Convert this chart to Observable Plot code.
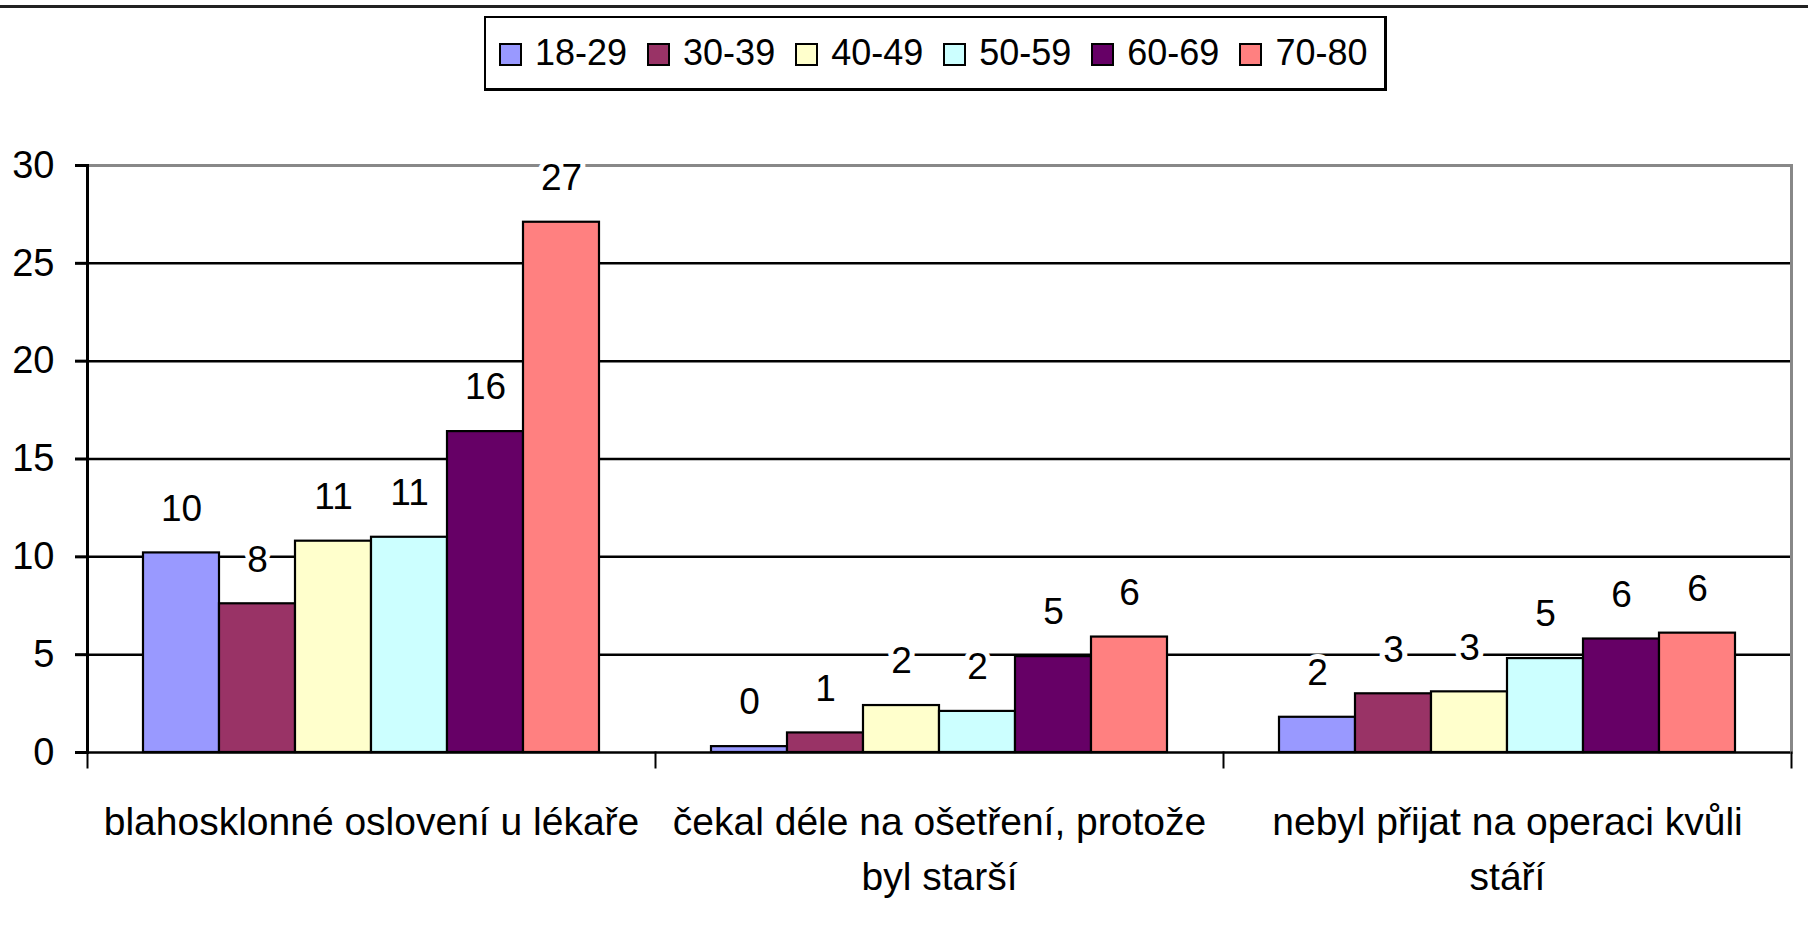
<!DOCTYPE html>
<html>
<head>
<meta charset="utf-8">
<script src="https://cdn.jsdelivr.net/npm/d3@7"></script>
<script src="https://cdn.jsdelivr.net/npm/@observablehq/plot@0.6"></script>
<style>
  html, body { margin: 0; padding: 0; background: #fff; overflow: hidden; }
  body { width: 1808px; height: 931px; font-family: "Liberation Sans", Arial, sans-serif; }
  #top { position: relative; width: 1808px; height: 100px; }
  #topline { position: absolute; left: 0; top: 5px; width: 1808px; height: 3px; background: #222; }
  #legend { position: absolute; left: 484px; top: 16px; width: 903px; height: 75px; box-sizing: border-box;
            border: 2px solid #000; border-right-width: 3px; border-bottom-width: 3px;
            display: flex; align-items: center; padding-left: 13px; white-space: nowrap; }
  .item { display: flex; align-items: center; margin-right: 20px; flex: none; }
  .sw { width: 23px; height: 23px; box-sizing: border-box; border: 2px solid #000; margin-right: 13px; margin-top: 3px; flex: none; }
  .lab { font-size: 36px; line-height: 1; color: #000; white-space: nowrap; }
  #chart svg { display: block; }
</style>
</head>
<body>
<div id="top"><div id="topline"></div><div id="legend"></div></div>
<div id="chart"></div>
<script>
// ---- data ----
const categories = [
  "blahosklonné oslovení u lékaře",
  "čekal déle na ošetření, protože byl starší",
  "nebyl přijat na operaci kvůli stáří"
];
const categoryLabels = [
  "blahosklonné oslovení u lékaře",
  "čekal déle na ošetření, protože\nbyl starší",
  "nebyl přijat na operaci kvůli\nstáří"
];
const ageGroups = ["18-29", "30-39", "40-49", "50-59", "60-69", "70-80"];
const colors = ["#9999FF", "#993366", "#FFFFCC", "#CCFFFF", "#660066", "#FF8080"];
const v18_29 = [10.2, 0.3, 1.8];
const v30_39 = [7.6, 1.0, 3.0];
const v40_49 = [10.8, 2.4, 3.1];
const v50_59 = [11.0, 2.1, 4.8];
const v60_69 = [16.4, 4.9, 5.8];
const v70_80 = [27.1, 5.9, 6.1];
const yTicks = [0, 5, 10, 15, 20, 25, 30];

const series = [v18_29, v30_39, v40_49, v50_59, v60_69, v70_80];
const data = [];
categories.forEach((c, j) => ageGroups.forEach((a, i) => data.push({category: c, age: a, value: series[i][j]})));

// ---- legend ----
const legend = document.getElementById("legend");
ageGroups.forEach((a, i) => {
  const it = document.createElement("div"); it.className = "item";
  const sw = document.createElement("div"); sw.className = "sw"; sw.style.background = colors[i];
  const lb = document.createElement("div"); lb.className = "lab"; lb.textContent = a;
  it.appendChild(sw); it.appendChild(lb); legend.appendChild(it);
});

// ---- chart ----
const W = 1808, H = 831, mT = 65, mB = 179, mL = 86, mR = 17;
const plotH = H - mT - mB;
const chart = Plot.plot({
  width: W, height: H,
  marginTop: mT, marginBottom: mB, marginLeft: mL, marginRight: mR,
  style: {fontFamily: "'Liberation Sans', Arial, sans-serif", fontSize: "38px", color: "#000", background: "#fff"},
  fx: {domain: categories, padding: 0, label: null},
  x: {domain: ageGroups, paddingInner: 0, paddingOuter: 0.73, axis: null},
  y: {domain: [0, 30], label: null},
  color: {domain: ageGroups, range: colors},
  marks: [
    Plot.gridY(yTicks.filter(t => t > 0 && t < 30), {stroke: "#000", strokeOpacity: 1, strokeWidth: 2.5}),
    Plot.ruleY([30], {stroke: "#888", strokeWidth: 3}),
    Plot.barY(data, {fx: "category", x: "age", y: "value", fill: "age", stroke: "#000", strokeWidth: 2.2}),
    Plot.ruleY([0], {stroke: "#000", strokeWidth: 2.5}),
    Plot.frame({anchor: "left", stroke: "#000", strokeWidth: 3, facetAnchor: "left"}),
    Plot.frame({anchor: "right", stroke: "#888", strokeWidth: 3, facetAnchor: "right"}),
    Plot.frame({anchor: "left", stroke: "#000", strokeWidth: 2, insetTop: plotH, insetBottom: -15}),
    Plot.frame({anchor: "right", stroke: "#000", strokeWidth: 2, insetTop: plotH, insetBottom: -15, facetAnchor: "right"}),
    Plot.axisY({ticks: yTicks, tickSize: 12, tickPadding: 21, strokeWidth: 3, color: "#000", fontSize: 38, label: null}),
    Plot.axisFx({anchor: "bottom", tickSize: 0, tickPadding: 44, color: "#000", fontSize: 39, lineHeight: 1.4, label: null,
                 tickFormat: c => categoryLabels[categories.indexOf(c)]}),
    Plot.text(data, {fx: "category", x: "age", y: "value", text: d => d3.format(".0f")(d.value),
                     dy: -44, fill: "#000", stroke: "#fff", strokeWidth: 10, fontSize: 37})
  ]
});
document.getElementById("chart").appendChild(chart);
</script>
</body>
</html>
